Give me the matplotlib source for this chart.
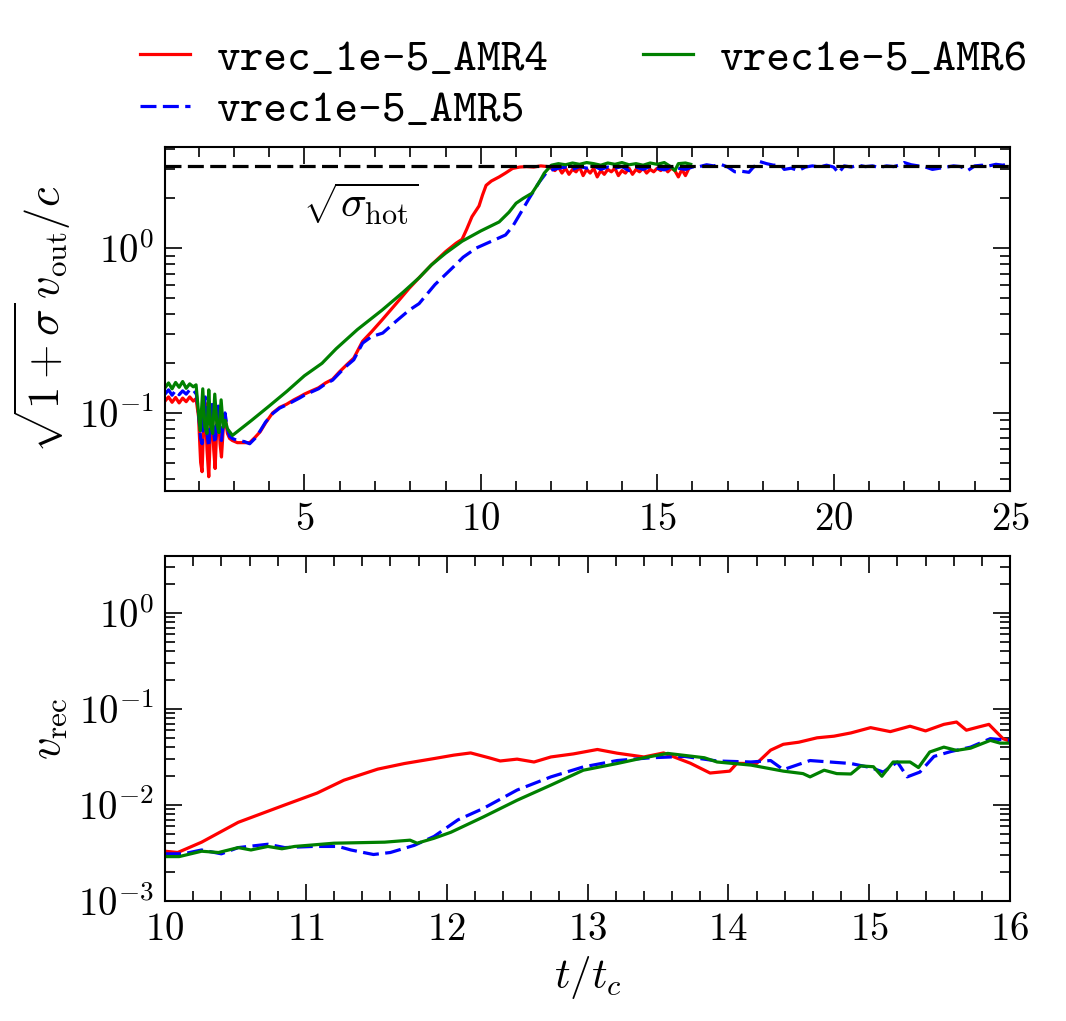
import matplotlib
matplotlib.use('Agg')
import matplotlib.pyplot as plt
from matplotlib.ticker import MultipleLocator, LogLocator, NullFormatter
import numpy as np

plt.rcParams['font.family'] = 'serif'
plt.rcParams['font.serif'] = ['cmr10']
plt.rcParams['mathtext.fontset'] = 'cm'
plt.rcParams['axes.formatter.use_mathtext'] = True
plt.rcParams['axes.unicode_minus'] = False

# ---- top panel: sqrt(1+sigma) v_out / c ----
t_out_amr4 = [1.05, 1.15, 1.25, 1.35, 1.45, 1.55, 1.65, 1.75, 1.85, 1.93,
              2.00, 2.06, 2.10, 2.15, 2.19, 2.24, 2.29, 2.34, 2.38, 2.43, 2.47, 2.52, 2.56, 2.61, 2.65, 2.70, 2.75, 2.82, 2.88, 2.96,
              3.1, 3.3, 3.45, 3.6, 3.75, 3.9, 4.1, 4.3, 4.5, 4.7, 4.86, 5.0, 5.2, 5.4, 5.6, 5.8, 6.0, 6.2, 6.4, 6.65, 6.9, 7.2, 7.6,
              7.97, 8.25, 8.6, 9.0, 9.3, 9.47, 9.6, 9.75, 9.95, 10.05, 10.15, 10.3, 10.52, 10.7, 10.9,
              11.1, 11.3, 11.5, 11.7, 11.9, 12.0, 12.1, 12.2, 12.3, 12.4, 12.5, 12.6, 12.7, 12.8, 12.9, 13.0, 13.1, 13.2, 13.3,
              13.4, 13.5, 13.6, 13.7, 13.8, 13.9, 14.0, 14.1, 14.2, 14.3, 14.4, 14.5, 14.6, 14.7, 14.8, 14.9, 15.0, 15.1, 15.2,
              15.3, 15.4, 15.5, 15.6, 15.7, 15.8, 15.9]
v_out_amr4 = [0.118, 0.125, 0.116, 0.124, 0.115, 0.123, 0.117, 0.125, 0.118, 0.122,
              0.095, 0.05, 0.044, 0.09, 0.115, 0.06, 0.041, 0.08, 0.11, 0.06, 0.046, 0.085, 0.105, 0.065, 0.054, 0.08, 0.095, 0.075, 0.07, 0.068,
              0.066, 0.066, 0.066, 0.071, 0.077, 0.087, 0.1, 0.108, 0.113, 0.12, 0.125, 0.13, 0.136, 0.142, 0.152, 0.16, 0.178, 0.196, 0.215, 0.272, 0.31, 0.366, 0.46,
              0.57, 0.66, 0.79, 0.95, 1.07, 1.13, 1.3, 1.55, 1.8, 2.1, 2.4, 2.55, 2.7, 2.85, 3.04,
              3.1, 3.12, 3.10, 3.15, 3.12, 3.05, 2.95, 3.1, 2.85, 3.05, 2.8, 3.0, 2.9, 3.1, 2.75, 3.0, 2.85, 3.05, 2.7,
              2.95, 2.8, 3.0, 2.9, 3.05, 2.75, 2.95, 2.85, 3.05, 2.8, 3.0, 2.9, 3.05, 2.85, 3.0, 2.9, 3.05, 2.95, 3.08,
              2.9, 3.05, 2.95, 2.7, 3.0, 2.75, 3.05]

t_out_amr5 = [1.05, 1.15, 1.25, 1.35, 1.45, 1.55, 1.65, 1.75, 1.85, 1.93,
              2.00, 2.06, 2.10, 2.15, 2.19, 2.24, 2.29, 2.34, 2.38, 2.43, 2.47, 2.52, 2.56, 2.61, 2.65, 2.70, 2.75, 2.82, 2.88, 2.96,
              3.1, 3.3, 3.45, 3.6, 3.75, 3.9, 4.1, 4.3, 4.5, 4.7, 4.86, 5.0, 5.2, 5.4, 5.6, 5.8, 6.0, 6.2, 6.4, 6.65, 6.9, 7.22, 7.6,
              7.97, 8.25, 8.7, 9.2, 9.5, 9.87, 10.3, 10.7, 10.9, 11.09, 11.37, 11.65, 11.85, 12.0,
              12.2, 12.4, 12.6, 12.8, 13.0, 13.2, 13.4, 13.6, 13.8, 14.0, 14.2, 14.4, 14.6, 14.8, 15.0, 15.2, 15.4, 15.6, 15.8,
              16.0, 16.2, 16.4, 16.6, 16.8, 17.0, 17.2, 17.4, 17.6, 17.7, 17.9, 18.1, 18.3, 18.5, 18.6, 18.8, 19.0, 19.2, 19.4,
              19.6, 19.8, 20.0, 20.14, 20.3, 20.5, 20.7, 20.9, 21.1, 21.3, 21.5, 21.7, 21.9, 22.0, 22.2, 22.4, 22.6, 22.8, 23.0,
              23.2, 23.4, 23.6, 23.8, 24.0, 24.2, 24.4, 24.6, 24.8, 24.95]
v_out_amr5 = [0.13, 0.138, 0.128, 0.137, 0.129, 0.136, 0.13, 0.138, 0.131, 0.135,
              0.1, 0.07, 0.065, 0.1, 0.125, 0.075, 0.062, 0.09, 0.118, 0.075, 0.065, 0.09, 0.11, 0.075, 0.068, 0.085, 0.1, 0.08, 0.072, 0.07,
              0.068, 0.067, 0.065, 0.07, 0.078, 0.088, 0.099, 0.107, 0.112, 0.118, 0.123, 0.128, 0.134, 0.14, 0.15, 0.158, 0.175, 0.193, 0.21, 0.265, 0.29, 0.305, 0.36,
              0.42, 0.46, 0.6, 0.76, 0.88, 1.0, 1.1, 1.2, 1.35, 1.58, 2.0, 2.5, 2.85, 2.97,
              3.05, 3.1, 3.0, 3.12, 3.05, 3.15, 3.0, 3.1, 3.05, 3.12, 2.95, 3.1, 3.0, 3.12, 3.05, 2.98, 3.1, 3.05, 3.0,
              3.1, 3.12, 3.2, 3.15, 3.22, 3.1, 2.9, 2.92, 2.88, 3.05, 3.35, 3.25, 3.18, 3.2, 3.0, 3.05, 2.95, 3.1, 3.15,
              3.1, 3.18, 3.1, 2.85, 3.15, 3.1, 3.18, 3.12, 3.15, 3.08, 3.15, 3.12, 3.2, 3.3, 3.2, 3.15, 3.1, 3.0, 3.05,
              3.1, 3.15, 3.12, 2.95, 3.15, 3.18, 3.15, 3.22, 3.18, 3.25]

t_out_amr6 = [1.05, 1.15, 1.25, 1.35, 1.45, 1.55, 1.65, 1.75, 1.85, 1.93,
              2.00, 2.05, 2.12, 2.18, 2.24, 2.29, 2.34, 2.40, 2.46, 2.52, 2.58, 2.64, 2.70, 2.76, 2.82, 2.90, 2.96,
              3.5, 4.0, 4.5, 5.0, 5.5, 5.9, 6.5, 7.2, 7.8, 8.25, 8.6, 9.0, 9.47, 10.0, 10.52, 10.8, 11.0, 11.2, 11.45, 11.65, 11.8, 12.0,
              12.2, 12.4, 12.6, 12.8, 13.0, 13.2, 13.4, 13.6, 13.8, 14.0, 14.2, 14.4, 14.6, 14.8, 15.0, 15.2, 15.4, 15.5,
              15.6, 15.8, 15.95]
v_out_amr6 = [0.142, 0.152, 0.14, 0.153, 0.143, 0.155, 0.141, 0.15, 0.144, 0.148,
              0.1, 0.078, 0.14, 0.082, 0.075, 0.138, 0.085, 0.075, 0.13, 0.085, 0.076, 0.12, 0.082, 0.09, 0.08, 0.076, 0.073,
              0.09, 0.11, 0.135, 0.168, 0.2, 0.245, 0.32, 0.42, 0.54, 0.66, 0.79, 0.93, 1.1, 1.27, 1.44, 1.65, 1.87, 2.0, 2.15, 2.5, 2.85, 3.18,
              3.25, 3.2, 3.28, 3.22, 3.3, 3.25, 3.18, 3.28, 3.22, 3.3, 3.2, 3.25, 3.18, 3.28, 3.22, 3.3, 3.1, 2.95,
              3.25, 3.28, 3.22]

sigma_hot = 10.0

# ---- bottom panel: v_rec ----
t_rec_amr4 = [10.0, 10.09, 10.26, 10.52, 10.85, 11.08, 11.27, 11.51, 11.7, 11.91, 12.05, 12.17, 12.3, 12.38, 12.5,
              12.62, 12.74, 12.9, 13.07, 13.21, 13.4, 13.54, 13.73, 13.87, 14.01, 14.06, 14.2, 14.3, 14.39, 14.5,
              14.63, 14.75, 14.87, 15.01, 15.15, 15.29, 15.4, 15.53, 15.62, 15.69, 15.78, 15.85, 15.95, 16.0]
v_rec_amr4 = [0.0033, 0.0032, 0.0041, 0.0066, 0.010, 0.0133, 0.0181, 0.0236, 0.027, 0.0304, 0.033, 0.0348, 0.031, 0.0287, 0.030,
              0.028, 0.0316, 0.034, 0.0378, 0.0346, 0.0316, 0.0348, 0.0272, 0.0215, 0.0225, 0.0271, 0.027, 0.0372, 0.0428, 0.045,
              0.05, 0.052, 0.0562, 0.0638, 0.058, 0.066, 0.059, 0.069, 0.073, 0.06, 0.065, 0.069, 0.049, 0.046]

t_rec_amr5 = [10.0, 10.13, 10.26, 10.4, 10.52, 10.73, 10.85, 11.05, 11.23, 11.32, 11.48, 11.6, 11.77, 11.91, 12.08,
              12.26, 12.5, 12.74, 12.97, 13.21, 13.45, 13.69, 13.92, 14.16, 14.3, 14.39, 14.58, 14.87, 15.01, 15.1,
              15.2, 15.27, 15.36, 15.46, 15.58, 15.72, 15.86, 16.0]
v_rec_amr5 = [0.0031, 0.0031, 0.0034, 0.0031, 0.0036, 0.0039, 0.0036, 0.0037, 0.0037, 0.0034, 0.00305, 0.0032, 0.0038, 0.0047, 0.007,
              0.0092, 0.0143, 0.0196, 0.0249, 0.029, 0.031, 0.032, 0.0287, 0.028, 0.029, 0.0233, 0.029, 0.027, 0.0245, 0.022,
              0.028, 0.0196, 0.022, 0.032, 0.036, 0.040, 0.049, 0.047]

t_rec_amr6 = [10.0, 10.1, 10.26, 10.38, 10.52, 10.61, 10.73, 10.83, 10.92, 11.2, 11.56, 11.74, 11.79, 11.91, 12.03,
              12.26, 12.5, 12.74, 12.97, 13.21, 13.4, 13.57, 13.83, 13.92, 14.16, 14.39, 14.53, 14.58, 14.68, 14.77,
              14.87, 14.94, 15.03, 15.09, 15.17, 15.29, 15.35, 15.43, 15.53, 15.62, 15.72, 15.86, 15.93, 16.0]
v_rec_amr6 = [0.0029, 0.0029, 0.0033, 0.0032, 0.0036, 0.0034, 0.0037, 0.0035, 0.0037, 0.004, 0.0041, 0.0043, 0.004, 0.0045, 0.0052,
              0.0075, 0.0112, 0.0161, 0.023, 0.027, 0.031, 0.0344, 0.031, 0.028, 0.026, 0.0225, 0.0212, 0.0196, 0.023, 0.0212,
              0.021, 0.0255, 0.025, 0.0199, 0.028, 0.028, 0.0245, 0.0356, 0.04, 0.037, 0.039, 0.047, 0.044, 0.044]

labels = ['vrec_1e-5_AMR4', 'vrec1e-5_AMR5', 'vrec1e-5_AMR6']

fig = plt.figure(figsize=(10.66, 10.21), dpi=100)
ax1 = fig.add_axes([0.1548, 0.5191, 0.7927, 0.3369])
ax2 = fig.add_axes([0.1548, 0.1175, 0.7927, 0.3379])

lw = 2.3
dash = (5, 2)
l1, = ax1.plot(t_out_amr4, v_out_amr4, color='red', lw=lw, ls='-')
l2, = ax1.plot(t_out_amr5, v_out_amr5, color='blue', lw=lw, ls='--', dashes=dash)
l3, = ax1.plot(t_out_amr6, v_out_amr6, color='green', lw=lw, ls='-')
ax1.axhline(np.sqrt(sigma_hot), color='black', lw=lw, ls='--', dashes=dash)
ax1.text(6.6, 1.85, r'$\sqrt{\sigma_{\rm hot}}$', fontsize=31, ha='center', va='center')

ax2.plot(t_rec_amr4, v_rec_amr4, color='red', lw=lw, ls='-')
ax2.plot(t_rec_amr5, v_rec_amr5, color='blue', lw=lw, ls='--', dashes=dash)
ax2.plot(t_rec_amr6, v_rec_amr6, color='green', lw=lw, ls='-')

ax1.set_yscale('log')
ax1.set_xlim(1.05, 25)
ax1.set_ylim(0.0336, 4.1)
ax1.xaxis.set_major_locator(MultipleLocator(5))
ax1.xaxis.set_minor_locator(MultipleLocator(1))
ax1.set_ylabel(r'$\sqrt{1+\sigma}\,v_{\rm out}/c$', fontsize=32, labelpad=4)

ax2.set_yscale('log')
ax2.set_xlim(10, 16)
ax2.set_ylim(1e-3, 3.9)
ax2.xaxis.set_major_locator(MultipleLocator(1))
ax2.xaxis.set_minor_locator(MultipleLocator(0.2))
ax2.set_ylabel(r'$v_{\rm rec}$', fontsize=32, labelpad=6)
ax2.set_xlabel(r'$t/t_c$', fontsize=31)

for ax in (ax1, ax2):
    ax.yaxis.set_major_locator(LogLocator(base=10, numticks=10))
    ax.yaxis.set_minor_locator(LogLocator(base=10, subs=np.arange(2, 10), numticks=10))
    ax.yaxis.set_minor_formatter(NullFormatter())
    ax.tick_params(which='both', direction='in', top=True, right=True, labelsize=28)
    ax.tick_params(which='major', length=12, width=1.2, pad=8)
    ax.tick_params(which='minor', length=7, width=1.2)
    for s in ax.spines.values():
        s.set_linewidth(1.5)

fig.legend([l1, l2, l3], labels, loc='center', bbox_to_anchor=(0.548, 0.917), ncol=2, frameon=False,
           prop={'family': 'cmtt10', 'size': 32.5}, handlelength=1.1, handletextpad=0.6,
           columnspacing=2.1, labelspacing=0.22)

fig.savefig('out.png', dpi=100)
